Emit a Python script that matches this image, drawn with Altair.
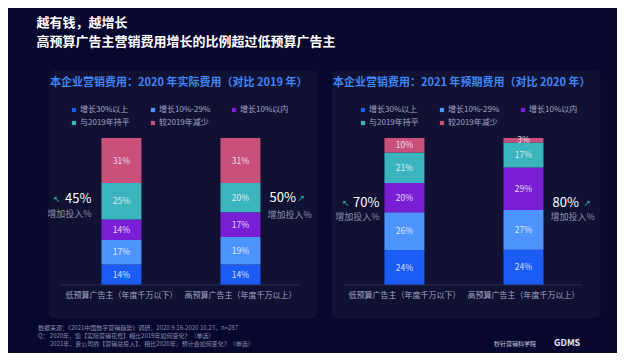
import altair as alt
import pandas as pd

# ---------------- data ----------------
cats = ["低预算广告主（年度千万以下）", "高预算广告主（年度千万以上）"]
series = ["增长30%以上", "增长10%-29%", "增长10%以内", "与2019年持平", "较2019年减少"]
colors = ["#1a5cf5", "#4d94ff", "#7a1ed6", "#3ab5bd", "#c8507a"]

vals_2020_low = [14, 17, 14, 25, 31]
vals_2020_high = [14, 19, 17, 20, 31]
vals_2021_low = [24, 26, 20, 21, 10]
vals_2021_high = [24, 27, 29, 17, 3]

growth_2020 = ["45%", "50%"]
growth_2021 = ["70%", "80%"]
growth_label = "增加投入%"

title_2020 = "本企业营销费用：2020 年实际费用（对比 2019 年）"
title_2021 = "本企业营销费用：2021 年预期费用（对比 2020 年）"

main_title = ["越有钱，越增长", "高预算广告主营销费用增长的比例超过低预算广告主"]
footer_lines = [
    "数据来源：《2021中国数字营销趋势》调研，2020.9.16-2020.10.23，n=287",
    "Q：  2020年，您【实际营销花费】相比2019年如何变化？（单选）",
    "2021年，贵公司的【营销总投入】，相比2020年，预计会如何变化？（单选）",
]
logo_texts = ["秒针营销科学院", "GDMS"]

# ---------------- style ----------------
FONT = "Noto Sans CJK SC"
BG = "#07072f"
PANEL = "#111133"
GREY = "#a3a6c4"
W, H = 269, 248
YDOM = [-0.2245, 1.4626]


def panel(title, low, high, growth, ann, leg_x):
    rows = []
    for c, vals in zip(cats, [low, high]):
        for i, (s, v) in enumerate(zip(series, vals)):
            rows.append({"cat": c, "series": s, "idx": i, "v": v})
    df = pd.DataFrame(rows)

    xs = alt.X("cat:N", scale=alt.Scale(domain=cats, paddingInner=0.664,
                                        paddingOuter=0.462, align=0.486), axis=None)
    ys = alt.Scale(domain=YDOM)

    base = (alt.Chart(df)
            .transform_stack(stack="v", groupby=["cat"], as_=["y0", "y1"],
                             offset="normalize",
                             sort=[alt.SortField("idx", order="ascending")])
            .transform_calculate(mid="(datum.y0 + datum.y1) / 2",
                                 lab="datum.v + '%'"))

    bars = base.mark_bar().encode(
        x=xs,
        y=alt.Y("y0:Q", scale=ys, axis=None),
        y2="y1:Q",
        color=alt.Color("series:N", scale=alt.Scale(domain=series, range=colors),
                        legend=alt.Legend(title=None, orient="none", legendX=leg_x,
                                          legendY=36, columns=3, direction="horizontal",
                                          symbolType="square",
                                          symbolSize=18, symbolStrokeWidth=0,
                                          labelFontSize=8, labelColor=GREY,
                                          labelFont=FONT, columnPadding=19,
                                          rowPadding=5, labelOffset=2, padding=0)),
        order="idx:Q",
    )
    seg_labels = base.mark_text(fontSize=8.5, color="#f4f4ff", opacity=0.85,
                                font=FONT).encode(
        x=xs, y=alt.Y("mid:Q", scale=ys, axis=None), text="lab:N")

    ttl = alt.Chart(pd.DataFrame({"t": [title]})).mark_text(
        align="left", baseline="middle", fontSize=11, fontWeight="bold",
        color="#3f86f5", font=FONT).encode(x=alt.value(2), y=alt.value(13), text="t:N")

    base_rule = alt.Chart(pd.DataFrame({"z": [0]})).mark_rule(
        color="#2a2d55", strokeWidth=1).encode(
        x=alt.value(13), x2=alt.value(251), y=alt.Y("z:Q", scale=ys, axis=None))

    cat_labels = (alt.Chart(pd.DataFrame({"cat": cats}))
                  .transform_calculate(yy="-0.075")
                  .mark_text(fontSize=8, color=GREY, font=FONT, baseline="middle")
                  .encode(x=xs, y=alt.Y("yy:Q", scale=ys, axis=None), text="cat:N"))

    layers = [bars, seg_labels, ttl, base_rule, cat_labels]
    for k, (c, g) in enumerate(zip(cats, growth)):
        a = ann[k]
        adf = pd.DataFrame({"cat": [c], "g": [g], "s": [growth_label],
                            "arrow": ["↖" if k == 0 else "↗"],
                            "yb": [a["yb"]], "ys": [a["ys"]]})
        align = "right" if k == 0 else "left"
        ch = alt.Chart(adf)
        layers.append(ch.mark_text(align=align, baseline="middle", fontSize=13,
                                   color="white", font=FONT, dx=a["dxb"]).encode(
            x=xs, y=alt.Y("yb:Q", scale=ys, axis=None), text="g:N"))
        layers.append(ch.mark_text(align=align, baseline="middle", fontSize=9,
                                   color="#35b39c", font="DejaVu Sans", dx=a["dxa"]).encode(
            x=xs, y=alt.Y("yb:Q", scale=ys, axis=None), text="arrow:N"))
        layers.append(ch.mark_text(align=align, baseline="middle", fontSize=9,
                                   color="#8c8fae", font=FONT, dx=a["dxs"]).encode(
            x=xs, y=alt.Y("ys:Q", scale=ys, axis=None), text="s:N"))

    return alt.layer(*layers).properties(
        width=W, height=H,
        view=alt.ViewBackground(fill=PANEL, stroke="transparent", cornerRadius=6))


ann_2020 = [
    {"dxb": -30, "dxa": -61, "dxs": -30, "yb": 0.585, "ys": 0.483},
    {"dxb": 29, "dxa": 57, "dxs": 27, "yb": 0.59, "ys": 0.476},
]
ann_2021 = [
    {"dxb": -25, "dxa": -55, "dxs": -25, "yb": 0.558, "ys": 0.463},
    {"dxb": 29, "dxa": 60, "dxs": 27, "yb": 0.558, "ys": 0.463},
]

p1 = panel(title_2020, vals_2020_low, vals_2020_high, growth_2020, ann_2020, 22)
p2 = panel(title_2021, vals_2021_low, vals_2021_high, growth_2021, ann_2021, 28)

row = alt.hconcat(p1, p2, spacing=12).resolve_legend(color="independent")

foot_layers = []
for i, (line, fx) in enumerate(zip(footer_lines, [-10, -10, 2])):
    foot_layers.append(
        alt.Chart(pd.DataFrame({"t": [line]})).mark_text(
            align="left", baseline="middle", fontSize=6, color="#8a8db0", font=FONT
        ).encode(x=alt.value(fx), y=alt.value(6 + 8 * i), text="t:N"))
foot_layers.append(
    alt.Chart(pd.DataFrame({"t": [logo_texts[0]]})).mark_text(
        align="left", baseline="middle", fontSize=6, color="#c8cae0", font=FONT
    ).encode(x=alt.value(446), y=alt.value(22), text="t:N"))
foot_layers.append(
    alt.Chart(pd.DataFrame({"t": [logo_texts[1]]})).mark_text(
        align="left", baseline="middle", fontSize=9, fontWeight="bold",
        color="#e8e9f5", font=FONT
    ).encode(x=alt.value(506), y=alt.value(21), text="t:N"))
footer = alt.layer(*foot_layers).properties(
    width=560, height=28,
    view=alt.ViewBackground(fill="transparent", stroke="transparent"))

chart = alt.vconcat(row, footer, spacing=2).properties(
    title=alt.TitleParams(text=main_title, anchor="start", fontSize=13,
                          fontWeight="bold", color="white", lineHeight=19,
                          dx=-1, offset=21, font=FONT),
    padding={"left": 28, "top": 8, "right": 8, "bottom": 2},
    background=BG,
).configure(font=FONT).configure_view(stroke="transparent")

chart.save("out.html", embed_options={"renderer": "svg", "actions": False})
